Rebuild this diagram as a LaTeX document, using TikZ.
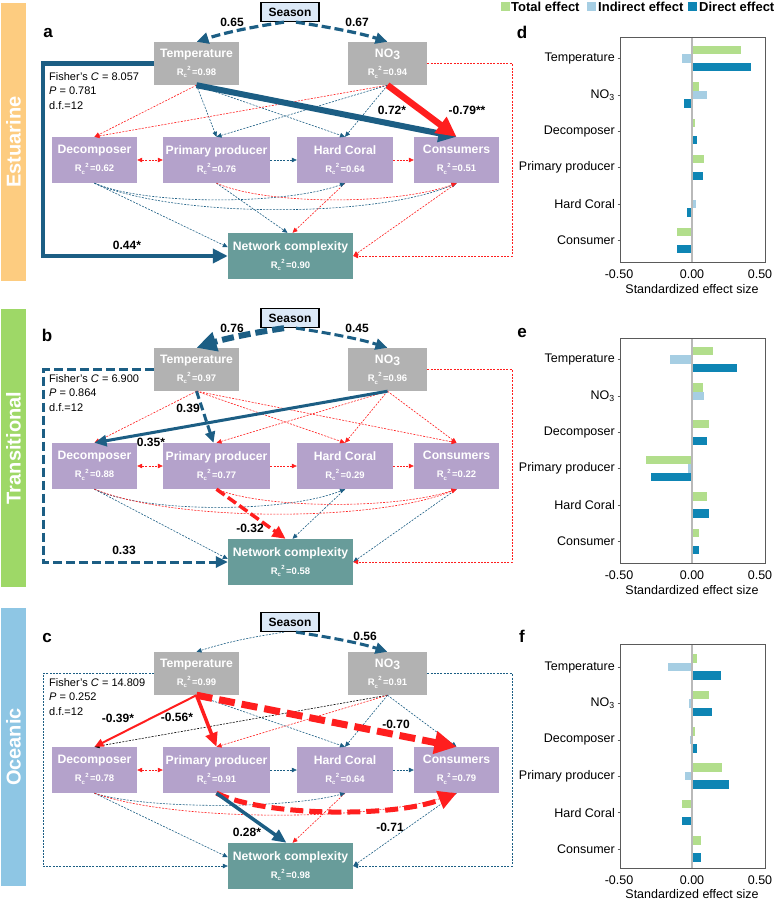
\documentclass[tikz,border=0pt]{standalone}
\usepackage{fontspec}
\setmainfont{Liberation Sans}
\usetikzlibrary{arrows.meta,calc}

\definecolor{semblue}{RGB}{28,94,132}
\definecolor{semred}{RGB}{255,30,30}
\definecolor{boxgray}{RGB}{178,178,178}
\definecolor{boxpurple}{RGB}{180,162,203}
\definecolor{boxteal}{RGB}{104,156,154}
\definecolor{seasonfill}{RGB}{220,233,247}
\definecolor{estorange}{RGB}{253,204,128}
\definecolor{trangreen}{RGB}{158,216,103}
\definecolor{oceblue}{RGB}{142,198,228}
\definecolor{totgreen}{RGB}{178,222,140}
\definecolor{indblue}{RGB}{166,206,227}
\definecolor{dirblue}{RGB}{14,133,180}
\definecolor{axgray}{RGB}{90,90,90}
\definecolor{zerogray}{RGB}{185,185,185}

\newcommand{\rsq}[1]{{\fontsize{9.5}{10}\selectfont R\raisebox{-2.6pt}{\fontsize{6}{6}\selectfont c}\kern0.3pt\raisebox{4.6pt}{\fontsize{6}{6}\selectfont 2}\,=#1}}
% one group of bars: centre, total, indirect, direct
\newcommand{\fxbars}[4]{%
  \fill[totgreen] (692,#1-12.75) rectangle ({692+138*(#2)},#1-4.25);
  \fill[indblue] (692,#1-4.25) rectangle ({692+138*(#3)},#1+4.25);
  \fill[dirblue] (692,#1+4.25) rectangle ({692+138*(#4)},#1+12.75);}

\begin{document}
\begin{tikzpicture}[x=1pt,y=-1pt,>={Triangle[length=5pt,width=4.5pt]},
  seasonbox/.style={draw=black,line width=1.3pt,fill=seasonfill,inner sep=0pt,
    minimum width=58pt,minimum height=19pt,font=\bfseries\fontsize{12}{14}\selectfont},
  abio/.style={fill=boxgray,text=white,align=center,inner sep=0pt,minimum height=43pt,
    font=\bfseries\fontsize{12.2}{18}\selectfont},
  bio/.style={abio,fill=boxpurple,minimum height=46pt},
  outc/.style={abio,fill=boxteal,minimum height=46pt},
  fx/.style={line width=0.6pt,dash pattern=on 2pt off 1.3pt,->},
  bl/.style={draw=semblue},
  rd/.style={draw=semred},
  bk/.style={draw=black},
  coef/.style={font=\bfseries\fontsize{12}{14}\selectfont,inner sep=1pt},
  fisher/.style={align=left,anchor=north west,inner sep=0pt,font=\fontsize{11}{14.5}\selectfont},
  sidelab/.style={rotate=90,text=white,font=\bfseries\fontsize{20}{22}\selectfont},
  panlab/.style={font=\bfseries\fontsize{17}{18}\selectfont,inner sep=0pt},
  catlab/.style={anchor=east,inner sep=0pt,font=\fontsize{12.5}{14}\selectfont},
  ticklab/.style={inner sep=0pt,font=\fontsize{12.5}{14}\selectfont},
  legtxt/.style={anchor=west,inner sep=0pt,font=\bfseries\fontsize{13}{14}\selectfont}]

\useasboundingbox (0,0) rectangle (779,901);
\fill[white] (0,0) rectangle (779,901);

% side bars
\fill[estorange] (1,3) rectangle (26,281);
\fill[trangreen] (1,309) rectangle (26,587);
\fill[oceblue] (1,608) rectangle (26,886);
\node[sidelab] (estlab) at (13.5,142) {Estuarine};
\node[sidelab] (tralab) at (13.5,448) {Transitional};
\node[sidelab] (ocelab) at (13.5,747) {Oceanic};

% boxes of the three models
\foreach \p/\dy/\rt/\rn/\rd/\rp/\rh/\rc/\rnc in
  {a/0/0.98/0.94/0.62/0.76/0.64/0.51/0.90,
   b/306/0.97/0.96/0.88/0.77/0.29/0.22/0.58,
   c/610/0.99/0.91/0.78/0.91/0.64/0.79/0.98}{
  \node[seasonbox] (\p Sea) at (290,\dy+12) {Season};
  \node[abio,minimum width=85pt] (\p Tem) at (196.5,\dy+63.5) {Temperature\\\rsq{\rt}};
  \node[abio,minimum width=79pt] (\p NO) at (387.5,\dy+63.5) {NO\raisebox{-2.5pt}{3}\\\rsq{\rn}};
  \node[bio,minimum width=85pt] (\p Dec) at (94.5,\dy+160) {Decomposer\\\rsq{\rd}};
  \node[bio,minimum width=107pt] (\p PP) at (216.5,\dy+160) {Primary producer\\\rsq{\rp}};
  \node[bio,minimum width=96pt] (\p HC) at (345,\dy+160) {Hard Coral\\\rsq{\rh}};
  \node[bio,minimum width=85pt] (\p Con) at (456.5,\dy+160) {Consumers\\\rsq{\rc}};
  \node[outc,minimum width=125pt] (\p NC) at (290.5,\dy+256) {Network complexity\\\rsq{\rnc}};
}

% --- a: estuarine
\node[panlab] (alab) at (48,33) {a};
\node[fisher] (afish) at (49,72) {Fisher's \textit{C} = 8.057\\\textit{P} = 0.781\\d.f.=12};
\path[fx] (aTem.south) edge[rd] (aDec.north)
                       edge[bl] (aPP.north)
                       edge[bl] (aHC.north)
          (aNO.south)  edge[rd] (aDec.north)
                       edge[bl] (aPP.north)
                       edge[bl] (aHC.north)
          (aDec.east)  edge[rd,<->] (aPP.west)
          (aPP.east)   edge[bl] (aHC.west)
          (aHC.east)   edge[rd] (aCon.west)
          (aDec.south) edge[bl] (aNC.172)
          (aPP.south)  edge[bl] ($(aNC.north)+(-3,0)$)
          (aHC.south)  edge[rd] ($(aNC.north)+(2,0)$)
          (aCon.south) edge[rd] (aNC.east);
\draw[bl,fx] (aDec.south) .. controls +(50,22) and +(-60,22) .. (aHC.south);
\draw[bl,fx] (aDec.south) .. controls +(80,35) and +(-80,35) .. (aCon.south);
\draw[rd,fx] (aPP.south) .. controls +(50,22) and +(-60,22) .. (aCon.south);
\draw[rd,fx] (aNO.east) -- ++(85,0) |- (aNC.east);
\draw[bl,line width=3.2pt,dash pattern=on 9pt off 4pt,-{Triangle[length=12pt,width=11pt]}]
  ($(aSea.south)+(-6,0)$) .. controls +(-40,6) and +(25,-8) .. (aTem.north);
\draw[bl,line width=3.2pt,dash pattern=on 9pt off 4pt,-{Triangle[length=12pt,width=11pt]}]
  ($(aSea.south)+(6,0)$) .. controls +(40,6) and +(-25,-8) .. (aNO.north);
\draw[bl,line width=4.5pt,-{Triangle[length=15pt,width=14pt]}] (aTem.west) -- ++(-111,0) |- (aNC.west);
\draw[bl,line width=6pt,-{Triangle[length=18pt,width=17pt]}] (aTem.south) -- (aCon.north);
\draw[rd,line width=6.5pt,-{Triangle[length=20pt,width=19pt]}] (aNO.south) -- (aCon.north);
\node[coef] (aw1) at (232,22) {0.65};
\node[coef] (aw2) at (357,22) {0.67};
\node[coef] (aw3) at (127,245) {0.44*};
\node[coef] (aw4) at (392,110) {0.72*};
\node[coef] (aw5) at (467,110) {-0.79**};

% --- b: transitional
\node[panlab] (blab) at (47,335) {b};
\node[fisher] (bfish) at (49,374) {Fisher's \textit{C} = 6.900\\\textit{P} = 0.864\\d.f.=12};
\path[fx] (bTem.south) edge[rd] (bDec.north)
                       edge[rd] (bHC.north)
                       edge[rd] (bCon.north)
          (bNO.south)  edge[rd] (bPP.north)
                       edge[rd] (bHC.north)
                       edge[rd] (bCon.north)
          (bDec.east)  edge[rd,<->] (bPP.west)
          (bPP.east)   edge[rd] (bHC.west)
          (bHC.east)   edge[rd] (bCon.west)
          (bDec.south) edge[bl] ($(bNC.west)+(0,-3)$)
          (bHC.south)  edge[bl] ($(bNC.north)+(2,0)$)
          (bCon.south) edge[bl] (bNC.east);
\draw[bl,fx] (bDec.south) .. controls +(50,24) and +(-60,24) .. (bHC.south);
\draw[rd,fx] (bDec.south) .. controls +(80,33) and +(-80,33) .. (bCon.south);
\draw[rd,fx] (bPP.south) .. controls +(50,20) and +(-60,20) .. (bCon.south);
\draw[rd,fx] (bNO.east) -- ++(85,0) |- (bNC.east);
\draw[bl,line width=6pt,dash pattern=on 12pt off 5pt,-{Triangle[length=20pt,width=19pt]}]
  ($(bSea.south)+(-6,0)$) .. controls +(-40,6) and +(25,-8) .. (bTem.north);
\draw[bl,line width=3pt,dash pattern=on 9pt off 4pt,-{Triangle[length=12pt,width=11pt]}]
  ($(bSea.south)+(6,0)$) .. controls +(40,6) and +(-25,-8) .. (bNO.north);
\draw[bl,line width=3pt,dash pattern=on 9pt off 4pt,-{Triangle[length=12pt,width=11pt]}]
  (bTem.west) -- ++(-110,0) |- (bNC.west);
\draw[bl,line width=3pt,-{Triangle[length=12pt,width=11pt]}] (bNO.south) -- (bDec.north);
\draw[bl,line width=3pt,dash pattern=on 8pt off 4pt,-{Triangle[length=11pt,width=10pt]}]
  (bTem.south) -- ($(bPP.north)+(-3,0)$);
\draw[rd,line width=3.5pt,dash pattern=on 10pt off 4pt,-{Triangle[length=13pt,width=12pt]}]
  (bPP.south) -- ($(bNC.north)+(-5,0)$);
\node[coef] (bw1) at (232,328) {0.76};
\node[coef] (bw2) at (357,328) {0.45};
\node[coef] (bw3) at (124,550) {0.33};
\node[coef] (bw4) at (151,442) {0.35*};
\node[coef] (bw5) at (188,408) {0.39};
\node[coef] (bw6) at (250,528) {-0.32};

% --- c: oceanic
\node[panlab] (clab) at (47,638) {c};
\node[fisher] (cfish) at (49,678) {Fisher's \textit{C} = 14.809\\\textit{P} = 0.252\\d.f.=12};
\path[fx] (cTem.south) edge[bl] (cHC.north)
          (cNO.south)  edge[bk] (cDec.north)
                       edge[rd] (cPP.north)
                       edge[bl] (cHC.north)
                       edge[bl] (cCon.north)
          (cDec.east)  edge[rd,<->] (cPP.west)
          (cPP.east)   edge[bl] (cHC.west)
          (cHC.east)   edge[bl] (cCon.west)
          (cDec.south) edge[bl] (cNC.172)
          (cHC.south)  edge[rd] ($(cNC.north)+(2,0)$)
          (cCon.south) edge[bl] (cNC.east);
\draw[bl,fx] (cDec.south) .. controls +(50,16) and +(-60,16) .. (cHC.south);
\draw[rd,fx] (cDec.south) .. controls +(80,29) and +(-80,29) .. (cCon.south);
\draw[bl,fx] ($(cSea.south)+(-6,0)$) .. controls +(-40,6) and +(25,-8) .. (cTem.north);
\draw[bl,fx] (cTem.west) -- ++(-111,0) |- (cNC.west);
\draw[bl,fx] (cNO.east) -- ++(85,0) |- (cNC.east);
\draw[bl,line width=3pt,dash pattern=on 9pt off 4pt,-{Triangle[length=12pt,width=11pt]}]
  ($(cSea.south)+(6,0)$) .. controls +(40,6) and +(-25,-8) .. (cNO.north);
\draw[rd,line width=2pt,-{Triangle[length=9pt,width=8pt]}] (cTem.south) -- (cDec.north);
\draw[rd,line width=3.5pt,-{Triangle[length=14pt,width=12pt]}] (cTem.south) -- (cPP.north);
\draw[rd,line width=7pt,dash pattern=on 16pt off 7pt,-{Triangle[length=22pt,width=22pt]}]
  (cTem.south) -- (cCon.north);
\draw[rd,line width=5pt,dash pattern=on 13pt off 6pt,-{Triangle[length=18pt,width=18pt]}]
  (cPP.south) .. controls +(50,24) and +(-60,24) .. (cCon.south);
\draw[bl,line width=3.5pt,-{Triangle[length=14pt,width=12pt]}] (cPP.south) -- ($(cNC.north)+(-4,0)$);
\node[coef] (cw1) at (365,636) {0.56};
\node[coef] (cw2) at (118,718) {-0.39*};
\node[coef] (cw3) at (177,717) {-0.56*};
\node[coef] (cw4) at (396,724) {-0.70};
\node[coef] (cw5) at (247,832) {0.28*};
\node[coef] (cw6) at (390,827) {-0.71};

% legend
\fill[totgreen] (501,2.5) rectangle (510,11.5);
\node[legtxt] (legtot) at (511,7) {Total effect};
\fill[indblue] (587,2.5) rectangle (596,11.5);
\node[legtxt] (legind) at (598,7) {Indirect effect};
\fill[dirblue] (688,2.5) rectangle (697,11.5);
\node[legtxt] (legdir) at (699,7) {Direct effect};

% d
\node[panlab] (dlab) at (522,32) {d};
\foreach \k/\cat/\tv/\iv/\dv in {0/Temperature/0.355/-0.07/0.43, 1/NO\textsubscript{3}/0.05/0.11/-0.06,
    2/Decomposer/0.02/-0.01/0.035, 3/Primary producer/0.085/0/0.08,
    4/Hard Coral/0/0.03/-0.035, 5/Consumer/-0.11/0/-0.11}{
  \pgfmathsetmacro\cy{37+21.5+36.4*\k}
  \fxbars{\cy}{\tv}{\iv}{\dv}
  \node[catlab] (dcat\k) at (615,\cy) {\cat};
  \draw[axgray,line width=0.6pt] (617.5,\cy) -- (620,\cy);
}
\draw[zerogray,line width=1.2pt] (692,37) -- (692,262);
\draw[axgray,line width=0.8pt] (620,37) rectangle (765,262);
\node[ticklab] (dt1) at (619,274) {-0.50};
\node[ticklab] (dt2) at (692,274) {0.00};
\node[ticklab] (dt3) at (760,274) {0.50};
\node[ticklab] (dtit) at (692,289) {Standardized effect size};

% e
\node[panlab] (elab) at (522,333) {e};
\foreach \k/\cat/\tv/\iv/\dv in {0/Temperature/0.155/-0.16/0.325, 1/NO\textsubscript{3}/0.08/0.09/0,
    2/Decomposer/0.125/0/0.11, 3/Primary producer/-0.335/-0.03/-0.30,
    4/Hard Coral/0.11/0/0.12, 5/Consumer/0.05/0/0.05}{
  \pgfmathsetmacro\cy{338+21.5+36.4*\k}
  \fxbars{\cy}{\tv}{\iv}{\dv}
  \node[catlab] (ecat\k) at (615,\cy) {\cat};
  \draw[axgray,line width=0.6pt] (617.5,\cy) -- (620,\cy);
}
\draw[zerogray,line width=1.2pt] (692,338) -- (692,563);
\draw[axgray,line width=0.8pt] (620,338) rectangle (765,563);
\node[ticklab] (et1) at (619,575) {-0.50};
\node[ticklab] (et2) at (692,575) {0.00};
\node[ticklab] (et3) at (760,575) {0.50};
\node[ticklab] (etit) at (692,590) {Standardized effect size};

% f
\node[panlab] (flab) at (522,636) {f};
\foreach \k/\cat/\tv/\iv/\dv in {0/Temperature/0.035/-0.175/0.21, 1/NO\textsubscript{3}/0.12/-0.02/0.145,
    2/Decomposer/0.02/-0.015/0.035, 3/Primary producer/0.22/-0.05/0.27,
    4/Hard Coral/-0.07/0/-0.07, 5/Consumer/0.065/0/0.065}{
  \pgfmathsetmacro\cy{644+23+36.4*\k}
  \fxbars{\cy}{\tv}{\iv}{\dv}
  \node[catlab] (fcat\k) at (615,\cy) {\cat};
  \draw[axgray,line width=0.6pt] (617.5,\cy) -- (620,\cy);
}
\draw[zerogray,line width=1.2pt] (692,644) -- (692,868);
\draw[axgray,line width=0.8pt] (620,644) rectangle (765,868);
\node[ticklab] (ft1) at (619,880) {-0.50};
\node[ticklab] (ft2) at (692,880) {0.00};
\node[ticklab] (ft3) at (760,880) {0.50};
\node[ticklab] (ftit) at (692,894) {Standardized effect size};
\end{tikzpicture}
\end{document}
